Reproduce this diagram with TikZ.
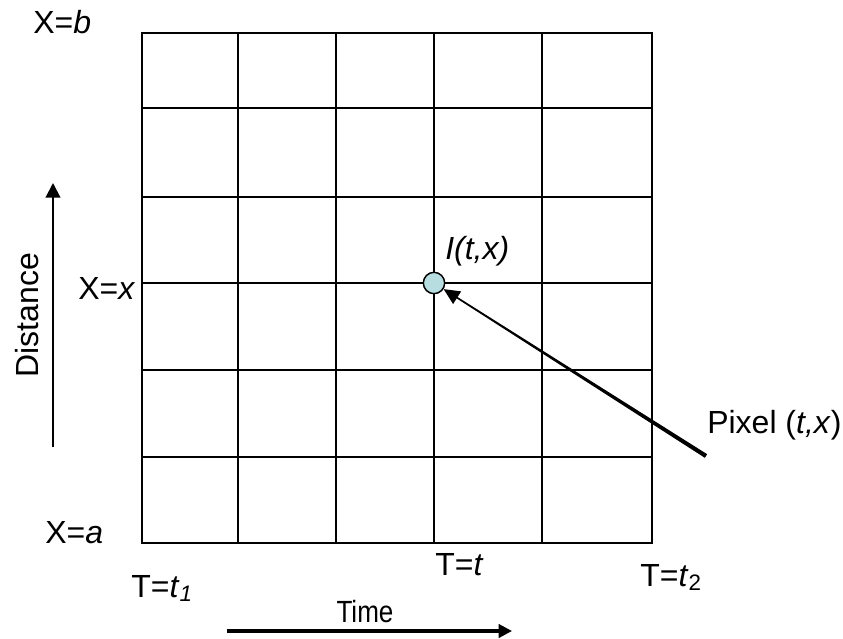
\documentclass[tikz,border=0pt]{standalone}
\usepackage{fontspec}
\setmainfont{Liberation Sans}
\usetikzlibrary{arrows.meta,calc}
\definecolor{pixfill}{RGB}{183,221,224}
\begin{document}
\begin{tikzpicture}[x=0.75pt,y=-0.75pt,
  gridline/.style={line width=1.5pt,black},
  lbl/.style={inner sep=0pt,font=\fontsize{24}{28}\selectfont,anchor=base west},
  axisarrow/.style={-{Triangle[length=11pt,width=11pt]}},
]
\useasboundingbox (0,0) rectangle (843,639);
% grid
\draw[gridline] (142,33) rectangle (652,543);
\foreach \gx in {238,336,434,542} \draw[gridline] (\gx,33) -- (\gx,543);
\foreach \gy in {108,197,283,370,457} \draw[gridline] (142,\gy) -- (652,\gy);
% pixel
\node[circle,draw=black,line width=1.1pt,fill=pixfill,minimum size=16pt,inner sep=0pt] (pix) at (434,283) {};
% labels
\node[lbl] (xb) at (33,33) {X=\textit{b}};
\node[lbl] (xx) at (78,299) {X=\textit{x}};
\node[lbl] (xa) at (45,543) {X=\textit{a}};
\node[lbl] (t1) at (131,597) {T=\textit{t}\textsubscript{\textit{1}}};
\node[lbl] (tt) at (435,575) {T=\textit{t}};
\node[lbl] (t2) at (640,586) {T=\textit{t}\textsubscript{2}};
\node[lbl] (itx) at (445,259) {\textit{I(t,x)}};
\node[lbl] (pxl) at (707,433) {Pixel (\textit{t,x})};
\node[inner sep=0pt,font=\fontsize{23}{27}\selectfont,xscale=0.85,anchor=base] (time) at (365,622) {Time};
\node[inner sep=0pt,font=\fontsize{24}{28}\selectfont,rotate=90] (dist) at (27,315) {Distance};
% axis arrows
\coordinate (ds) at (53,447);
\coordinate (de) at (53,183);
\draw[axisarrow,line width=1.5pt] (ds) -- (de);
\coordinate (ts) at (227,631);
\coordinate (te) at (512,631);
\draw[-{Triangle[length=10pt,width=10pt]},line width=2.3pt] (ts) -- (te);
% pixel pointer (tapered)
\coordinate (ps) at (706,456);
\coordinate (pm) at ($(pix.center)!0.06!(ps)$);
\fill ($(ps)!1.6pt!90:(pix.center)$) -- ($(ps)!1.6pt!-90:(pix.center)$) --
      ($(pm)!0.6pt!90:(ps)$) -- ($(pm)!0.6pt!-90:(ps)$) -- cycle;
\draw[-{Triangle[length=12pt,width=11pt]},line width=1pt] (pm) -- (pix);
\end{tikzpicture}
\end{document}
